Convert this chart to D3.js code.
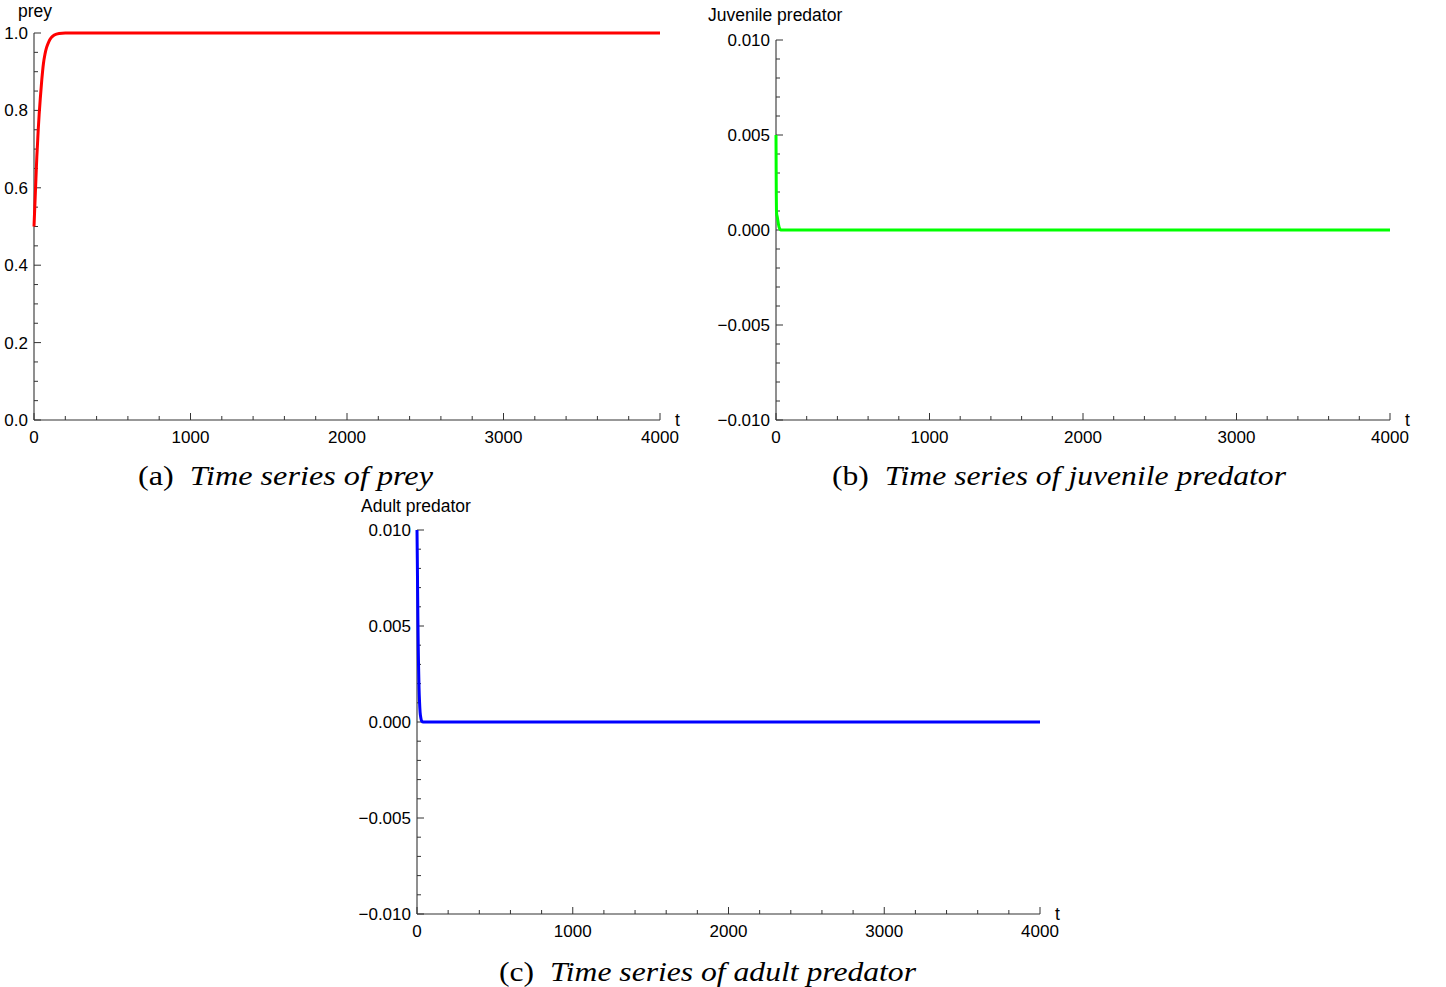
<!DOCTYPE html>
<html>
<head>
<meta charset="utf-8">
<script src="https://cdn.jsdelivr.net/npm/d3@7"></script>
<style>
  html, body { margin: 0; padding: 0; background: #fff; }
  svg { display: block; }
  .tick-label { font-family: "Liberation Sans", Arial, sans-serif; font-size: 17px; fill: #000; }
  .axis-title { font-family: "Liberation Sans", Arial, sans-serif; font-size: 17.5px; fill: #000; }
  .caption { font-family: "Liberation Serif", "DejaVu Serif", serif; font-size: 27px; fill: #000; }
</style>
</head>
<body>
<svg id="chart" width="1446" height="987"></svg>
<script>
// ---------------- data ----------------
const preyT      = [0, 3, 6, 10, 14, 18, 22, 27, 33, 40, 50, 60, 70, 80, 95, 110, 130, 160, 200, 300, 4000];
const preyV      = [0.5, 0.53, 0.56, 0.6, 0.64, 0.68, 0.71, 0.75, 0.79, 0.83, 0.88, 0.92, 0.945, 0.962, 0.978, 0.988, 0.995, 0.999, 1.0, 1.0, 1.0];

const juvT       = [0, 0.5, 1, 2, 3, 5, 8, 12, 16, 20, 25, 30, 4000];
const juvV       = [0.005, 0.0042, 0.0032, 0.0018, 0.0010, 0.0008, 0.0007, 0.0005, 0.0003, 0.00015, 0.00005, 0, 0];

const adultT     = [0, 2, 4, 6, 8, 10, 13, 16, 20, 25, 30, 40, 4000];
const adultV     = [0.010, 0.0085, 0.0068, 0.0052, 0.0039, 0.0029, 0.0018, 0.0011, 0.0005, 0.0002, 0.00005, 0, 0];

const xTickValues      = [0, 1000, 2000, 3000, 4000];
const xMinorStep       = 200;
const preyYTicks       = [0.0, 0.2, 0.4, 0.6, 0.8, 1.0];
const preyYMinorStep   = 0.05;
const predYTicks       = [-0.010, -0.005, 0.000, 0.005, 0.010];
const predYMinorStep   = 0.001;

const yTitles   = ["prey", "Juvenile predator", "Adult predator"];
const capLetter = ["(a)", "(b)", "(c)"];
const capText   = ["Time series of prey", "Time series of juvenile predator", "Time series of adult predator"];
const colors    = ["#ff0000", "#00ff00", "#0000ff"];

// ---------------- layout ----------------
const svg = d3.select("#chart");

const panels = [
  { t: preyT,  v: preyV,  xr: [34, 660],   yr: [420, 33],  yd: [0, 1],          yt: preyYTicks, ym: preyYMinorStep, fmt: d3.format(".1f"),
    title: {x: 18, y: 17}, cap: {x: 285.5, y: 485, w: 295} },
  { t: juvT,   v: juvV,   xr: [776, 1390], yr: [420, 40],  yd: [-0.01, 0.01],   yt: predYTicks, ym: predYMinorStep, fmt: d3.format(".3f"),
    title: {x: 708, y: 21}, cap: {x: 1059, y: 485, w: 454} },
  { t: adultT, v: adultV, xr: [417, 1040], yr: [914, 530], yd: [-0.01, 0.01],   yt: predYTicks, ym: predYMinorStep, fmt: d3.format(".3f"),
    title: {x: 361, y: 512}, cap: {x: 707.5, y: 981, w: 417} }
];

const axisColor = "#333";

panels.forEach((p, i) => {
  const x = d3.scaleLinear().domain([0, 4000]).range(p.xr);
  const y = d3.scaleLinear().domain(p.yd).range(p.yr);
  const g = svg.append("g");
  const x0 = x(0), yBase = y(p.yd[0]);

  // axis lines
  g.append("line").attr("x1", x0).attr("x2", x(4000)).attr("y1", yBase).attr("y2", yBase)
    .attr("stroke", axisColor).attr("stroke-width", 1.1);
  g.append("line").attr("x1", x0).attr("x2", x0).attr("y1", y(p.yd[0])).attr("y2", y(p.yd[1]))
    .attr("stroke", axisColor).attr("stroke-width", 1.1);

  // x ticks
  const xMinor = d3.range(0, 4000 + 1, xMinorStep).filter(v => v % 1000 !== 0);
  g.selectAll(null).data(xMinor).enter().append("line")
    .attr("x1", d => x(d)).attr("x2", d => x(d)).attr("y1", yBase).attr("y2", yBase - 4)
    .attr("stroke", axisColor).attr("stroke-width", 1);
  g.selectAll(null).data(xTickValues).enter().append("line")
    .attr("x1", d => x(d)).attr("x2", d => x(d)).attr("y1", yBase).attr("y2", yBase - 7)
    .attr("stroke", axisColor).attr("stroke-width", 1);
  g.selectAll(null).data(xTickValues).enter().append("text")
    .attr("class", "tick-label").attr("x", d => x(d)).attr("y", yBase + 23)
    .attr("text-anchor", "middle").text(d => d);

  // y ticks
  const nMinor = Math.round((p.yd[1] - p.yd[0]) / p.ym);
  const yMinor = d3.range(0, nMinor + 1).map(k => p.yd[0] + k * p.ym)
    .filter(v => !p.yt.some(t => Math.abs(t - v) < p.ym / 10));
  g.selectAll(null).data(yMinor).enter().append("line")
    .attr("x1", x0).attr("x2", x0 + 4).attr("y1", d => y(d)).attr("y2", d => y(d))
    .attr("stroke", axisColor).attr("stroke-width", 1);
  g.selectAll(null).data(p.yt).enter().append("line")
    .attr("x1", x0).attr("x2", x0 + 7).attr("y1", d => y(d)).attr("y2", d => y(d))
    .attr("stroke", axisColor).attr("stroke-width", 1);
  g.selectAll(null).data(p.yt).enter().append("text")
    .attr("class", "tick-label").attr("x", x0 - 6).attr("y", d => y(d)).attr("dy", "0.35em")
    .attr("text-anchor", "end").text(d => p.fmt(d));

  // axis titles
  g.append("text").attr("class", "axis-title").attr("x", p.title.x).attr("y", p.title.y).text(yTitles[i]);
  g.append("text").attr("class", "axis-title").attr("x", x(4000) + 15).attr("y", yBase + 6).text("t");

  // curve
  const pts = p.t.map((t, k) => [t, p.v[k]]);
  const line = d3.line().x(d => x(d[0])).y(d => y(d[1])).curve(d3.curveMonotoneX);
  g.append("path").datum(pts).attr("d", line)
    .attr("fill", "none").attr("stroke", colors[i]).attr("stroke-width", 3)
    .attr("stroke-linejoin", "round").attr("stroke-linecap", "butt");

  // caption
  const cap = g.append("text").attr("class", "caption")
    .attr("x", p.cap.x).attr("y", p.cap.y).attr("text-anchor", "middle")
    .attr("textLength", p.cap.w).attr("lengthAdjust", "spacingAndGlyphs");
  cap.append("tspan").text(capLetter[i] + "\u2002");
  cap.append("tspan").attr("font-style", "italic").text(capText[i]);
});
</script>
</body>
</html>
